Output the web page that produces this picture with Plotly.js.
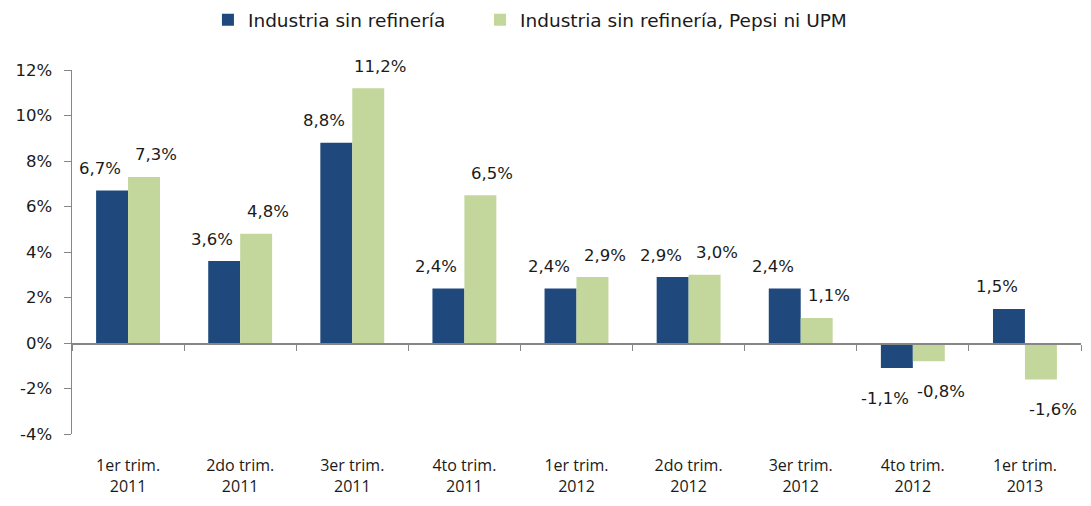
<!DOCTYPE html>
<html>
<head>
<meta charset="utf-8">
<script src="https://cdn.plot.ly/plotly-3.0.1.min.js"></script>
<style>
  body { margin: 0; background: #fff; }
  #chart { width: 1091px; height: 506px; }
</style>
</head>
<body>
<div id="chart"></div>
<script>
// quarters on the x axis
const quarters = [
  "1er trim.<br>2011",
  "2do trim.<br>2011",
  "3er trim.<br>2011",
  "4to trim.<br>2011",
  "1er trim.<br>2012",
  "2do trim.<br>2012",
  "3er trim.<br>2012",
  "4to trim.<br>2012",
  "1er trim.<br>2013",
];

const sinRefineria = [6.7, 3.6, 8.8, 2.4, 2.4, 2.9, 2.4, -1.1, 1.5];
const sinRefPepsiUpm = [7.3, 4.8, 11.2, 6.5, 2.9, 3.0, 1.1, -0.8, -1.6];

const seriesNames = ["Industria sin refinería", "Industria sin refinería, Pepsi ni UPM"];
const yTicks = [-4, -2, 0, 2, 4, 6, 8, 10, 12];

// 6.7 -> "6,7%"
const fmt = (v) => v.toFixed(1).replace(".", ",") + "%";

const numFont = { family: "DejaVu Sans", size: 16.5, color: "#1a1a1a" };
const legendFont = { family: "DejaVu Sans", size: 18.5, color: "#1a1a1a" };

const traces = [
  {
    type: "bar",
    name: seriesNames[0],
    x: quarters,
    y: sinRefineria,
    marker: { color: "#1F497D" },
    legend: "legend",
  },
  {
    type: "bar",
    name: seriesNames[1],
    x: quarters,
    y: sinRefPepsiUpm,
    marker: { color: "#C3D69B" },
    legend: "legend2",
  },
  // dummy trace so the axis drawn through zero gets its category ticks
  {
    type: "scatter",
    mode: "none",
    x: quarters,
    y: quarters.map(() => null),
    xaxis: "x2",
    showlegend: false,
    hoverinfo: "skip",
  },
];

// value labels, pulled out to the side of each bar like in the excel original
function labels(vals, dx) {
  return vals.map((v, i) => ({
    x: quarters[i],
    y: v,
    text: fmt(v),
    showarrow: false,
    xshift: dx,
    yshift: v >= 0 ? 22 : -30,
    font: numFont,
  }));
}

// two legends so the gap between the entries can match the original
function legendAt(x) {
  return {
    orientation: "h",
    x: x,
    xanchor: "left",
    xref: "container",
    y: 0.96,
    yanchor: "middle",
    yref: "container",
    font: legendFont,
    itemwidth: 30,
  };
}

const layout = {
  width: 1091,
  height: 506,
  margin: { l: 72, r: 10, t: 70, b: 72 },
  paper_bgcolor: "#fff",
  plot_bgcolor: "#fff",
  barmode: "group",
  bargap: 0.43,
  bargroupgap: 0,
  font: { family: "Open Sans", size: 16, color: "#1a1a1a" },
  showlegend: true,
  legend: legendAt(0.1906),
  legend2: legendAt(0.44),
  annotations: [...labels(sinRefineria, -28), ...labels(sinRefPepsiUpm, 28)],
  xaxis: {
    type: "category",
    range: [-0.5, 8.5],
    showline: false,
    showgrid: false,
    zeroline: false,
    ticks: "",
    ticklabelstandoff: 20,
    tickfont: { family: "Open Sans", size: 16, color: "#1a1a1a" },
  },
  xaxis2: {
    type: "category",
    overlaying: "x",
    anchor: "free",
    position: 0.25,
    range: [-0.5, 8.5],
    showline: true,
    linecolor: "#868686",
    linewidth: 1.5,
    ticks: "outside",
    tickson: "boundaries",
    ticklen: 6,
    tickcolor: "#868686",
    showticklabels: false,
    showgrid: false,
  },
  yaxis: {
    range: [-4, 12],
    tickvals: yTicks,
    ticktext: yTicks.map((t) => t + "%"),
    showline: true,
    linecolor: "#868686",
    linewidth: 1.5,
    ticks: "outside",
    ticklen: 7,
    tickcolor: "#868686",
    ticklabelstandoff: 8,
    showgrid: false,
    zeroline: false,
    tickfont: numFont,
  },
};

Plotly.newPlot("chart", traces, layout, { displayModeBar: false, staticPlot: true });
</script>
</body>
</html>
